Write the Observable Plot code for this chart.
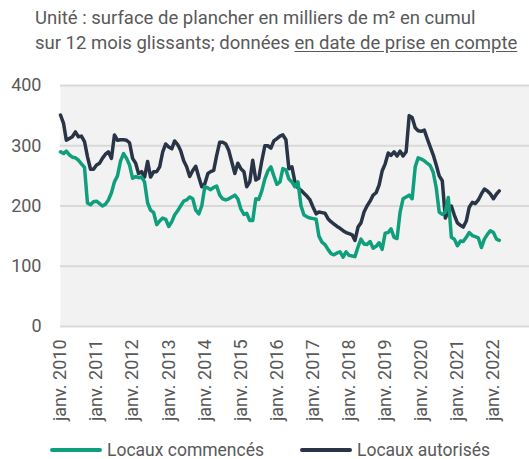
<!DOCTYPE html>
<html>
<head>
<meta charset="utf-8">
<script src="https://cdn.jsdelivr.net/npm/d3@7"></script>
<script src="https://cdn.jsdelivr.net/npm/@observablehq/plot@0.6"></script>
<style>
  html, body { margin: 0; padding: 0; background: #fff; }
  body { width: 529px; height: 459px; position: relative; font-family: Roboto, "Noto Sans", sans-serif; }
  #title { position: absolute; left: 35px; top: 6px; font-size: 18.5px; line-height: 25px; color: #595959; white-space: nowrap; }
  #title u { text-decoration: underline; text-underline-offset: 2px; }
  #chart { position: absolute; left: 0; top: 64px; }
  .leg { position: absolute; top: 443px; height: 14px; line-height: 14px; font-size: 17.5px; color: #595959; display: flex; align-items: center; white-space: nowrap; }
  .sw { display: inline-block; width: 52px; height: 4px; margin-right: 5px; border-radius: 2px; }
</style>
</head>
<body>
<div id="title">Unité : surface de plancher en milliers de m² en cumul<br>sur 12 mois glissants; données <u>en date de prise en compte</u></div>
<div id="chart"></div>
<div class="leg" style="left:50px"><span class="sw" style="background:#109f7c"></span>Locaux commencés</div>
<div class="leg" style="left:300px"><span class="sw" style="background:#2a3447"></span>Locaux autorisés</div>
<script>
// Monthly series, starting janv. 2010
const startYear = 2010;
const commences = [
  290,287,291,285,281,280,276,270,264,205,202,207,
  208,204,200,203,210,222,240,250,275,287,279,268,
  246,249,247,248,240,205,193,189,169,175,180,178,
  166,174,185,192,200,208,210,215,212,193,187,200,
  232,230,227,231,233,218,212,210,212,215,218,212,
  195,186,188,176,176,212,211,225,245,258,265,250,
  236,240,262,260,245,240,232,240,200,185,182,180,
  179,178,150,140,136,128,121,119,122,124,115,124,
  118,117,116,132,145,137,136,141,130,133,139,128,
  155,156,162,148,146,190,212,215,218,212,265,280,
  278,275,271,267,256,230,190,186,190,214,148,145,
  134,142,141,148,156,151,149,147,131,145,153,159,
  156,145,143
];
const autorises = [
  351,337,309,312,315,323,315,316,307,282,261,261,
  268,271,279,286,290,279,318,309,310,310,309,305,
  279,271,254,257,248,274,248,257,257,265,290,303,
  298,295,308,302,292,275,265,249,259,266,248,232,
  237,254,257,259,284,306,306,303,292,273,254,271,
  262,257,232,240,276,243,246,275,300,300,296,308,
  312,316,318,310,262,265,240,230,226,221,216,210,
  198,187,190,189,188,179,174,170,166,163,159,156,
  154,152,143,165,172,190,200,208,218,222,235,258,
  270,288,284,290,283,291,283,290,350,347,330,325,
  324,326,312,298,285,268,250,242,180,192,200,185,
  172,168,165,175,198,206,204,210,220,228,225,220,
  212,220,225
];
const yTicks = [0, 100, 200, 300, 400];
const tickYears = [2010,2011,2012,2013,2014,2015,2016,2017,2018,2019,2020,2021,2022];
const seriesNames = ["Locaux commencés", "Locaux autorisés"];
const colors = ["#109f7c", "#2a3447"];

const toDate = i => new Date(Date.UTC(startYear, i, 1));
const dataC = commences.map((v, i) => ({date: toDate(i), v, s: seriesNames[0]}));
const dataA = autorises.map((v, i) => ({date: toDate(i), v, s: seriesNames[1]}));
const tickDates = tickYears.map(y => new Date(Date.UTC(y, 0, 1)));

const chart = Plot.plot({
  width: 529,
  height: 395,
  marginLeft: 60,
  marginRight: 0,
  marginTop: 21,
  marginBottom: 133,
  style: {fontFamily: "Roboto, sans-serif", color: "#595959", background: "transparent"},
  x: {type: "utc", domain: [new Date(Date.UTC(2010,0,1)), new Date(Date.UTC(2023,0,1))]},
  y: {domain: [0, 400]},
  marks: [
    Plot.frame({fill: "#f2f2f2", stroke: null}),
    Plot.gridY(yTicks, {stroke: "#d9d9d9", strokeOpacity: 1, strokeWidth: 2}),
    Plot.axisY(yTicks, {tickSize: 0, tickPadding: 19, fontSize: 18, fill: "#595959", label: null}),
    Plot.axisX(tickDates, {tickSize: 0, tickPadding: 13, tickRotate: -90, fontSize: 18, fill: "#595959", label: null,
      tickFormat: d => "janv. " + d.getUTCFullYear()}),
    Plot.line(dataA, {x: "date", y: "v", stroke: colors[1], strokeWidth: 3.5, strokeLinejoin: "round"}),
    Plot.line(dataC, {x: "date", y: "v", stroke: colors[0], strokeWidth: 3.5, strokeLinejoin: "round"})
  ]
});
document.getElementById("chart").appendChild(chart);
</script>
</body>
</html>
